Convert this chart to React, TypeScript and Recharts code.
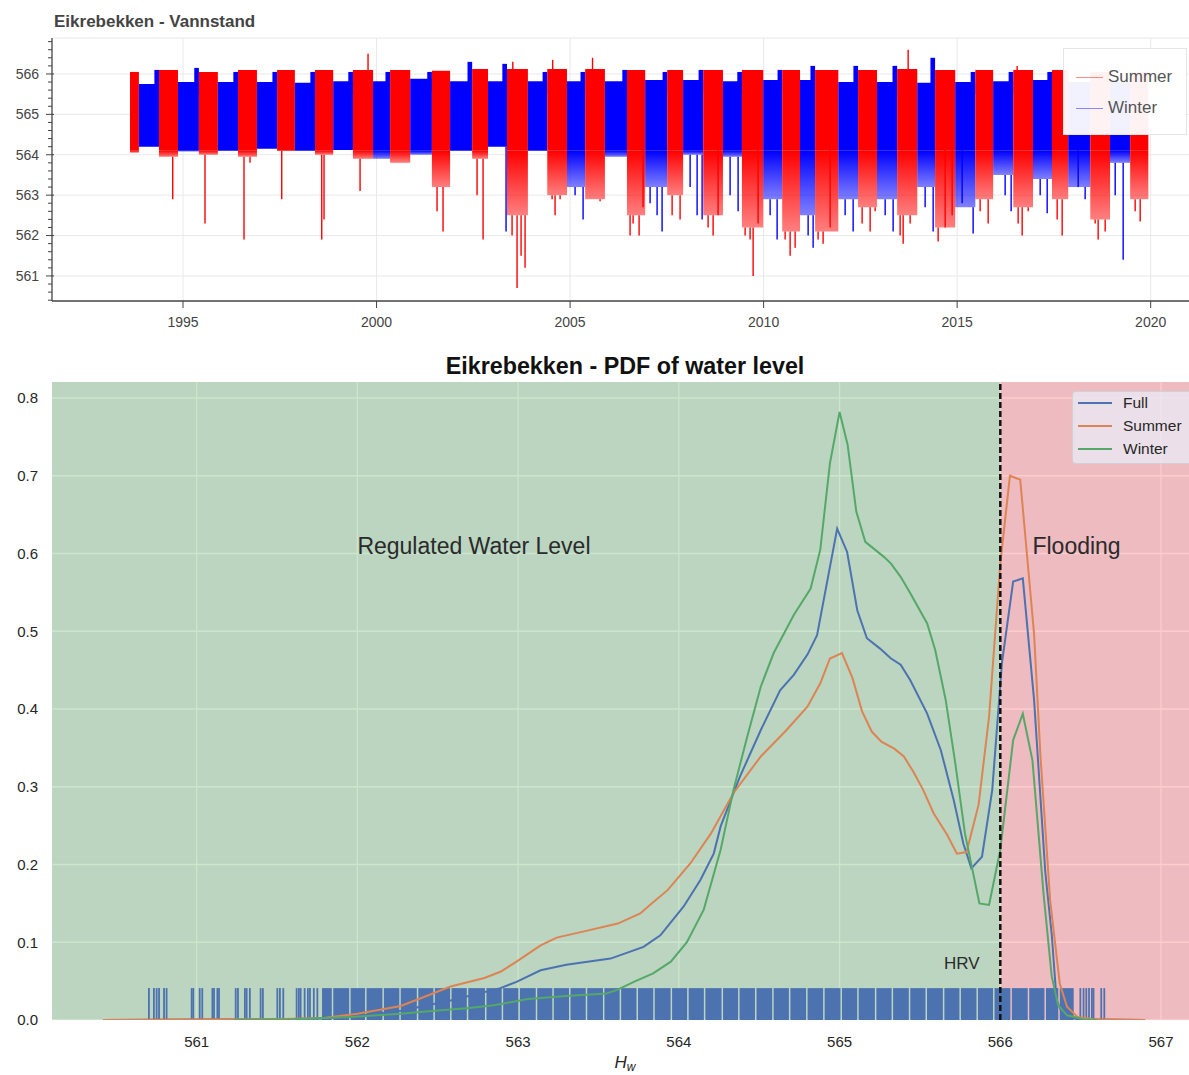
import React from "react";
import {
  CartesianGrid,
  ComposedChart,
  Line,
  ReferenceArea,
  ReferenceDot,
  ReferenceLine,
  XAxis,
  YAxis,
} from "recharts";

const FONT = '"Liberation Sans", Arial, Helvetica, sans-serif';

/* ---------------- Vannstand: water level over time ---------------- */

// season boundaries in decimal years; blocks alternate summer / winter, starting with summer
const seasonEdges = [
  1993.63, 1993.86, 1994.38, 1994.87, 1995.41, 1995.9, 1996.42, 1996.91, 1997.43, 1997.89,
  1998.41, 1998.88, 1999.39, 1999.91, 2000.35, 2000.87, 2001.43, 2001.9, 2002.47, 2002.88,
  2003.37, 2003.91, 2004.41, 2004.92, 2005.39, 2005.9, 2006.47, 2006.94, 2007.51, 2007.92,
  2008.44, 2008.95, 2009.44, 2009.99, 2010.48, 2010.94, 2011.33, 2011.93, 2012.44, 2012.93,
  2013.45, 2013.97, 2014.43, 2014.95, 2015.47, 2015.93, 2016.45, 2016.96, 2017.45, 2017.87,
  2018.44, 2018.95, 2019.47, 2019.94,
];

// upper edge of the dense band in each block
const blockTop = [
  566.05, 565.75, 566.1, 565.8, 566.05, 565.8, 566.1, 565.8, 566.1, 565.78,
  566.1, 565.82, 566.1, 565.82, 566.1, 565.88, 566.08, 565.82, 566.12, 565.82,
  566.12, 565.82, 566.12, 565.82, 566.12, 565.82, 566.1, 565.85, 566.1, 565.85,
  566.1, 565.82, 566.1, 565.85, 566.1, 565.85, 566.1, 565.8, 566.1, 565.8,
  566.12, 565.78, 566.1, 565.8, 566.1, 565.82, 566.1, 565.85, 566.1, 565.8,
  566.05, 565.8, 566.05,
];

// lower edge of the dense band in each block
const blockLow = [
  564.05, 564.2, 563.95, 564.08, 564.0, 564.1, 563.95, 564.15, 564.1, 564.1,
  564.0, 564.12, 563.9, 563.9, 563.8, 564.0, 563.2, 564.1, 563.9, 564.2,
  562.5, 564.1, 563.0, 563.2, 562.9, 563.95, 562.5, 563.2, 563.0, 564.0,
  562.5, 563.95, 562.2, 562.9, 562.1, 562.5, 562.1, 562.9, 562.7, 562.9,
  562.5, 563.2, 562.2, 562.7, 562.9, 563.5, 562.7, 563.4, 562.9, 563.2,
  562.4, 563.8, 562.9,
];

// filling peak reached at the end of each winter
const winterPeak = [
  566.1, 566.15, 566.05, 566.05, 566.05, 566.05, 566.05, 566.05, 566.3, 566.25,
  566.05, 566.05, 566.1, 566.05, 566.1, 566.05, 566.1, 566.2, 566.2, 566.2,
  566.4, 566.05, 566.05, 566.05, 565.8, 565.8,
];

// single readings far outside the dense band
const spikeYear = [
  1994.734, 1995.568, 1996.576, 1996.731, 1997.55, 1998.584, 1998.643, 1999.574, 1999.78, 2001.563,
  2001.718, 2002.597, 2002.752, 2003.346, 2003.501, 2003.52, 2003.63, 2003.734, 2003.837, 2004.535,
  2004.55, 2004.612, 2004.742, 2005.129, 2005.336, 2005.58, 2005.775, 2006.55, 2006.628, 2006.783,
  2006.886, 2007.067, 2007.248, 2007.377, 2007.636, 2007.842, 2008.101, 2008.282, 2008.411, 2008.566,
  2008.695, 2008.824, 2009.134, 2009.341, 2009.522, 2009.651, 2009.729, 2009.858, 2010.168, 2010.349,
  2010.556, 2010.685, 2010.814, 2011.15, 2011.279, 2011.408, 2011.537, 2011.718, 2012.106, 2012.313,
  2012.545, 2012.752, 2012.881, 2013.14, 2013.346, 2013.527, 2013.605, 2013.734, 2013.786, 2014.173,
  2014.38, 2014.509, 2014.69, 2014.871, 2015.129, 2015.413, 2015.594, 2015.801, 2016.24, 2016.395,
  2016.55, 2016.576, 2016.68, 2016.835, 2017.145, 2017.326, 2017.584, 2017.713, 2018.127, 2018.307,
  2018.566, 2018.643, 2018.824, 2019.083, 2019.289, 2019.599, 2019.729,
];
const spikeLevel = [
  562.9, 562.3, 561.9, 563.8, 562.9, 561.9, 562.4, 563.1, 566.5, 562.6,
  562.1, 563.0, 561.9, 562.1, 562.0, 566.3, 560.7, 561.5, 561.2, 562.9,
  566.35, 562.5, 562.9, 563.0, 562.4, 566.4, 562.85, 562.0, 562.3, 562.0,
  562.7, 562.8, 562.5, 562.1, 562.5, 562.4, 563.2, 562.5, 562.4, 562.2,
  562.0, 562.5, 563.0, 562.6, 562.0, 561.9, 561.0, 562.3, 562.5, 561.9,
  561.9, 561.5, 561.7, 562.0, 561.7, 561.9, 561.8, 562.2, 562.5, 562.1,
  562.3, 562.1, 562.6, 562.5, 562.1, 562.0, 561.8, 566.6, 562.3, 562.7,
  562.1, 561.85, 562.2, 562.5, 562.8, 562.05, 562.6, 562.3, 563.0, 562.6,
  566.2, 562.3, 562.0, 562.6, 563.0, 562.55, 562.4, 562.0, 563.2, 562.9,
  562.3, 561.9, 562.1, 563.0, 561.4, 562.6, 562.35,
];

const yearTicks = [1995, 2000, 2005, 2010, 2015, 2020];
const levelTicks = [561, 562, 563, 564, 565, 566];
const levelAxisTicks = [
  560.4, 560.6, 560.8, 561, 561.2, 561.4, 561.6, 561.8, 562, 562.2, 562.4, 562.6, 562.8,
  563, 563.2, 563.4, 563.6, 563.8, 564, 564.2, 564.4, 564.6, 564.8, 565, 565.2, 565.4,
  565.6, 565.8, 566, 566.2, 566.4, 566.6, 566.8,
];

const YEAR_DOMAIN: [number, number] = [1991.615, 2020.99];
const LEVEL_DOMAIN: [number, number] = [560.38, 566.89];
const CORE_FLOOR = 564.1;
const SPRING_FILL = 0.12;
const SUMMER_RED = "#ff0000";
const WINTER_BLUE = "#0000ff";

type Block = { start: number; end: number; summer: boolean; top: number; low: number; peak?: number };

const blocks: Block[] = blockTop.map((top, i) => ({
  start: seasonEdges[i],
  end: seasonEdges[i + 1],
  summer: i % 2 === 0,
  top,
  low: blockLow[i],
  peak: i % 2 === 1 ? winterPeak[(i - 1) / 2] : undefined,
}));

const spikes = spikeYear.map((year, i) => {
  const b = blocks.find((blk) => year >= blk.start && year < blk.end) ?? blocks[0];
  const level = spikeLevel[i];
  return {
    year,
    level,
    from: level < b.low ? b.low : b.top,
    color: b.summer ? SUMMER_RED : WINTER_BLUE,
  };
});

function LevelTick(props: any) {
  const { x, y, payload } = props;
  const v = payload.value as number;
  const major = Math.abs(v - Math.round(v)) < 1e-6;
  return (
    <g>
      <line x1={major ? x - 6 : x - 4} x2={major ? x + 2 : x} y1={y} y2={y} stroke="#444" strokeWidth={1} />
      {major && (
        <text x={x - 13} y={y} dy="0.35em" textAnchor="end" fontSize={14} fill="#444" fontFamily={FONT}>
          {Math.round(v)}
        </text>
      )}
    </g>
  );
}

function VannstandChart() {
  return (
    <div style={{ position: "absolute", left: 0, top: 0, width: 1189, height: 340 }}>
      <div
        style={{
          position: "absolute",
          left: 54,
          top: 13,
          fontSize: 17,
          lineHeight: "17px",
          fontWeight: 700,
          color: "#444",
          whiteSpace: "nowrap",
        }}
      >
        Eikrebekken - Vannstand
      </div>
      <ComposedChart width={1189} height={340} data={blocks} margin={{ top: 38, right: 0, bottom: 0, left: 0 }}>
        <defs>
          <linearGradient id="fringe-summer" x1="0" y1="0" x2="0" y2="1">
            <stop offset="0%" stopColor={SUMMER_RED} stopOpacity={1} />
            <stop offset="100%" stopColor={SUMMER_RED} stopOpacity={0.5} />
          </linearGradient>
          <linearGradient id="fringe-winter" x1="0" y1="0" x2="0" y2="1">
            <stop offset="0%" stopColor={WINTER_BLUE} stopOpacity={1} />
            <stop offset="100%" stopColor={WINTER_BLUE} stopOpacity={0.5} />
          </linearGradient>
        </defs>
        <CartesianGrid stroke="#e8e8e8" horizontalValues={levelTicks} verticalValues={yearTicks} />
        <XAxis
          type="number"
          dataKey="start"
          domain={YEAR_DOMAIN}
          ticks={yearTicks}
          allowDataOverflow
          height={39}
          tickSize={7}
          tickMargin={9}
          tick={{ fontSize: 14, fill: "#444", fontFamily: FONT }}
          tickLine={{ stroke: "#444" }}
          axisLine={{ stroke: "#444", strokeWidth: 1.3 }}
        />
        <YAxis
          type="number"
          domain={LEVEL_DOMAIN}
          ticks={levelAxisTicks}
          interval={0}
          allowDataOverflow
          width={52}
          tickSize={0}
          tickMargin={0}
          tickLine={false}
          tick={<LevelTick />}
          axisLine={{ stroke: "#444", strokeWidth: 1.3 }}
        />
        <ReferenceLine y={LEVEL_DOMAIN[1]} stroke="#e8e8e8" />
        {blocks.flatMap((b, i) => {
          const color = b.summer ? SUMMER_RED : WINTER_BLUE;
          const floor = Math.max(b.low, CORE_FLOOR);
          const parts = [
            <ReferenceArea
              key={`core-${i}`}
              x1={b.start}
              x2={b.end}
              y1={floor}
              y2={b.top}
              fill={color}
              fillOpacity={1}
            />,
          ];
          if (b.low < CORE_FLOOR) {
            parts.push(
              <ReferenceArea
                key={`fringe-${i}`}
                x1={b.start}
                x2={b.end}
                y1={b.low}
                y2={CORE_FLOOR}
                fill={`url(#fringe-${b.summer ? "summer" : "winter"})`}
                fillOpacity={1}
              />
            );
          }
          if (b.peak !== undefined && b.peak > b.top) {
            parts.push(
              <ReferenceArea
                key={`fill-${i}`}
                x1={b.end - SPRING_FILL}
                x2={b.end}
                y1={b.top - 0.3}
                y2={b.peak}
                fill={color}
                fillOpacity={1}
              />
            );
          }
          return parts;
        })}
        {spikes.map((s, i) => (
          <ReferenceLine
            key={`spike-${i}`}
            segment={[
              { x: s.year, y: s.from },
              { x: s.year, y: s.level },
            ]}
            stroke={s.color}
            strokeWidth={1.4}
          />
        ))}
      </ComposedChart>
      <div
        style={{
          position: "absolute",
          left: 1063,
          top: 48,
          width: 124,
          height: 87,
          background: "rgba(255,255,255,0.95)",
          border: "1px solid #e5e5e5",
          boxSizing: "border-box",
        }}
      >
        {[
          { name: "Summer", color: "rgba(255,0,0,0.45)", y: 28 },
          { name: "Winter", color: "rgba(0,0,255,0.45)", y: 59 },
        ].map((item) => (
          <div key={item.name}>
            <div
              style={{ position: "absolute", left: 12, top: item.y, width: 27, height: 1, background: item.color }}
            />
            <div
              style={{
                position: "absolute",
                left: 44,
                top: item.y - 10,
                fontSize: 17,
                lineHeight: "20px",
                color: "#555",
                whiteSpace: "nowrap",
              }}
            >
              {item.name}
            </div>
          </div>
        ))}
      </div>
    </div>
  );
}

/* ---------------- PDF of water level ---------------- */

const fullLevel = [
  560.42, 561.0, 561.5, 561.8, 562.0, 562.27, 562.58, 562.89, 562.99, 563.14, 563.3, 563.575,
  563.78, 563.885, 564.03, 564.134, 564.217, 564.26, 564.38, 564.51, 564.63, 564.715, 564.8,
  564.86, 564.985, 565.047, 565.11, 565.17, 565.25, 565.32, 565.38, 565.44, 565.545, 565.63,
  565.71, 565.77, 565.82, 565.886, 565.95, 566.01, 566.08, 566.14, 566.21, 566.28, 566.32,
  566.35, 566.39, 566.48, 566.9,
];
const fullDensity = [
  0, 0.0005, 0.001, 0.002, 0.005, 0.012, 0.025, 0.041, 0.049, 0.064, 0.071, 0.079,
  0.094, 0.109, 0.146, 0.18, 0.214, 0.249, 0.313, 0.373, 0.424, 0.444, 0.47,
  0.495, 0.632, 0.602, 0.527, 0.491, 0.478, 0.465, 0.457, 0.437, 0.394, 0.347,
  0.283, 0.227, 0.195, 0.21, 0.296, 0.459, 0.564, 0.568, 0.412, 0.19, 0.11,
  0.026, 0.006, 0.001, 0,
];

const summerLevel = [
  560.42, 561.0, 561.5, 561.8, 562.0, 562.27, 562.37, 562.58, 562.79, 562.89, 562.99, 563.14,
  563.24, 563.41, 563.62, 563.76, 563.82, 563.93, 564.07, 564.2, 564.34, 564.51, 564.67,
  564.8, 564.88, 564.94, 565.015, 565.08, 565.14, 565.2, 565.26, 565.34, 565.4, 565.46,
  565.52, 565.585, 565.67, 565.73, 565.79, 565.865, 565.93, 566.0, 566.06, 566.124, 566.21,
  566.25, 566.31, 566.37, 566.415, 566.48, 566.58, 566.9,
];
const summerDensity = [
  0, 0.0005, 0.001, 0.003, 0.008, 0.018, 0.026, 0.043, 0.054, 0.062, 0.075, 0.096,
  0.106, 0.114, 0.124, 0.137, 0.148, 0.167, 0.201, 0.24, 0.292, 0.339, 0.373,
  0.403, 0.433, 0.465, 0.472, 0.44, 0.397, 0.371, 0.358, 0.349, 0.339, 0.319,
  0.296, 0.266, 0.238, 0.214, 0.216, 0.277, 0.39, 0.587, 0.7, 0.695, 0.497,
  0.339, 0.154, 0.047, 0.017, 0.004, 0.001, 0,
];

const winterLevel = [
  561.23, 561.6, 561.96, 562.27, 562.48, 562.68, 562.85, 563.06, 563.3, 563.55, 563.62, 563.72,
  563.84, 563.95, 564.05, 564.155, 564.26, 564.34, 564.425, 564.51, 564.59, 564.715, 564.82,
  564.88, 564.94, 565.0, 565.05, 565.104, 565.16, 565.274, 565.32, 565.38, 565.44, 565.545,
  565.595, 565.66, 565.72, 565.78, 565.87, 565.93, 566.0, 566.08, 566.14, 566.2, 566.27,
  566.32, 566.36, 566.415, 566.52, 566.6,
];
const winterDensity = [
  0, 0.001, 0.004, 0.008, 0.012, 0.015, 0.019, 0.027, 0.031, 0.034, 0.039, 0.049,
  0.06, 0.075, 0.1, 0.142, 0.219, 0.296, 0.364, 0.429, 0.472, 0.521, 0.555,
  0.605, 0.716, 0.782, 0.74, 0.654, 0.615, 0.596, 0.587, 0.57, 0.549, 0.51,
  0.476, 0.412, 0.33, 0.24, 0.15, 0.148, 0.219, 0.36, 0.394, 0.334, 0.16,
  0.056, 0.019, 0.006, 0.001, 0,
];

// rug: dense stretch split where observations thin out, then isolated readings
const rugEdges = [
  561.78, 561.85, 561.958, 562.057, 562.165, 562.27, 562.379, 562.482, 562.586, 562.69,
  562.803, 562.907, 563.011, 563.119, 563.222, 563.326, 563.43, 563.537, 563.641, 563.746,
  563.85, 563.958, 564.061, 564.165, 564.275, 564.378, 564.483, 564.59, 564.694, 564.801,
  564.907, 565.015, 565.119, 565.229, 565.333, 565.44, 565.544, 565.652, 565.755, 565.861,
  565.964, 566.072, 566.18, 566.284, 566.37, 566.466,
];
const rugTicks = [
  560.703, 560.734, 560.751, 560.766, 560.797, 560.813, 560.969, 560.979, 561.019, 561.035,
  561.098, 561.108, 561.129, 561.139, 561.243, 561.257, 561.3, 561.311, 561.331, 561.398,
  561.412, 561.502, 561.518, 561.539, 561.622, 561.636, 561.647, 561.672, 561.692, 561.705,
  561.729, 561.751, 566.498, 566.518, 566.535, 566.552, 566.57, 566.58, 566.628, 566.647,
];

const hTicks = [561, 562, 563, 564, 565, 566, 567];
const pdfTicks = [0, 0.1, 0.2, 0.3, 0.4, 0.5, 0.6, 0.7, 0.8];

const annotationText = ["Regulated Water Level", "Flooding", "HRV"];
const annotationLevel = [562.0, 566.2, 565.65];
const annotationDensity = [0.6, 0.6, 0.066];
const annotationSize = [23, 23, 17];

const H_DOMAIN: [number, number] = [560.1, 567.23];
const PDF_DOMAIN: [number, number] = [0, 0.8206];
const HRV = 566;
const RUG_HEIGHT = 0.041;
const RUG_BLUE = "#4c72b0";

const series = [
  { key: "full", name: "Full", color: "#4c72b0" },
  { key: "summer", name: "Summer", color: "#dd8452" },
  { key: "winter", name: "Winter", color: "#55a868" },
] as const;

type PdfRow = { h: number; full?: number; summer?: number; winter?: number };

const pdfRows: PdfRow[] = (() => {
  const rows = new Map<number, PdfRow>();
  const put = (hs: number[], ds: number[], key: "full" | "summer" | "winter") =>
    hs.forEach((h, i) => {
      const row = rows.get(h) ?? { h };
      row[key] = ds[i];
      rows.set(h, row);
    });
  put(fullLevel, fullDensity, "full");
  put(summerLevel, summerDensity, "summer");
  put(winterLevel, winterDensity, "winter");
  return [...rows.values()].sort((a, b) => a.h - b.h);
})();

const RugBlock = (props: any) => (
  <rect x={props.x} y={props.y} width={Math.max(props.width - 1.5, 0.5)} height={props.height} fill={RUG_BLUE} />
);

const annotation = (text: string, size: number) => (props: any) => {
  const vb = props.viewBox ?? {};
  return (
    <text x={vb.x} y={vb.y} fontSize={size} fill="#2a2a2a" fontFamily={FONT}>
      {text}
    </text>
  );
};

const HwLabel = (props: any) => {
  const { x, y, width } = props.viewBox;
  return (
    <text x={x + width / 2} y={y + 48} textAnchor="middle" fontFamily={FONT} fontSize={17} fill="#262626" fontStyle="italic">
      H
      <tspan dy={3} fontSize={12}>
        w
      </tspan>
    </text>
  );
};

function PdfChart() {
  return (
    <div style={{ position: "absolute", left: 0, top: 340, width: 1198, height: 735 }}>
      <div
        style={{
          position: "absolute",
          left: 0,
          top: 15,
          width: 1250,
          textAlign: "center",
          fontSize: 23.3,
          lineHeight: "23px",
          fontWeight: 700,
          color: "#111",
          whiteSpace: "nowrap",
        }}
      >
        Eikrebekken - PDF of water level
      </div>
      <ComposedChart width={1198} height={735} data={pdfRows} margin={{ top: 42, right: 0, bottom: 0, left: 0 }}>
        <CartesianGrid
          fill="#eaeaf2"
          stroke="#ffffff"
          strokeWidth={1.3}
          horizontalValues={pdfTicks}
          verticalValues={hTicks}
        />
        <XAxis
          type="number"
          dataKey="h"
          domain={H_DOMAIN}
          ticks={hTicks}
          allowDataOverflow
          height={55}
          axisLine={false}
          tickLine={false}
          tickSize={0}
          tickMargin={16}
          tick={{ fontSize: 15, fill: "#262626", fontFamily: FONT }}
          label={{ content: HwLabel }}
        />
        <YAxis
          type="number"
          domain={PDF_DOMAIN}
          ticks={pdfTicks}
          allowDataOverflow
          width={52}
          axisLine={false}
          tickLine={false}
          tickSize={0}
          tickMargin={14}
          tick={{ fontSize: 15, fill: "#262626", fontFamily: FONT }}
          tickFormatter={(v: number) => v.toFixed(1)}
        />
        <ReferenceArea x1={H_DOMAIN[0]} x2={HRV} fill="#008000" fillOpacity={0.2} />
        <ReferenceArea x1={HRV} x2={H_DOMAIN[1]} fill="#ff0000" fillOpacity={0.2} />
        {rugEdges.slice(0, -1).map((x1, i) => (
          <ReferenceArea key={`rug-${i}`} x1={x1} x2={rugEdges[i + 1]} y1={0} y2={RUG_HEIGHT} shape={RugBlock} />
        ))}
        {rugTicks.map((v, i) => (
          <ReferenceLine
            key={`tick-${i}`}
            segment={[
              { x: v, y: 0 },
              { x: v, y: RUG_HEIGHT },
            ]}
            stroke={RUG_BLUE}
            strokeWidth={1.8}
          />
        ))}
        {series.map((s) => (
          <Line
            key={s.key}
            dataKey={s.key}
            name={s.name}
            type="linear"
            stroke={s.color}
            strokeWidth={2}
            dot={false}
            activeDot={false}
            connectNulls
            isAnimationActive={false}
          />
        ))}
        <ReferenceLine x={HRV} stroke="#111" strokeWidth={2.5} strokeDasharray="6 3" />
        {annotationText.map((text, i) => (
          <ReferenceDot
            key={text}
            x={annotationLevel[i]}
            y={annotationDensity[i]}
            r={0}
            fill="none"
            stroke="none"
            label={annotation(text, annotationSize[i])}
          />
        ))}
      </ComposedChart>
      <div
        style={{
          position: "absolute",
          left: 1072,
          top: 51,
          width: 130,
          height: 73,
          background: "rgba(234,234,242,0.8)",
          border: "1px solid rgba(204,204,204,0.8)",
          borderRadius: 4,
          boxSizing: "border-box",
        }}
      >
        {series.map((s, i) => (
          <div
            key={s.key}
            style={{ position: "absolute", left: 0, top: i * 22.7, height: 22.7, width: 130, display: "flex", alignItems: "center" }}
          >
            <div style={{ marginLeft: 5, width: 34, height: 2, background: s.color }} />
            <div style={{ marginLeft: 11, fontSize: 15.5, color: "#262626", whiteSpace: "nowrap" }}>{s.name}</div>
          </div>
        ))}
      </div>
    </div>
  );
}

export default function App() {
  return (
    <div
      style={{
        position: "absolute",
        left: 0,
        top: 0,
        width: 1189,
        height: 1075,
        overflow: "hidden",
        background: "#ffffff",
        fontFamily: FONT,
      }}
    >
      <VannstandChart />
      <PdfChart />
    </div>
  );
}
